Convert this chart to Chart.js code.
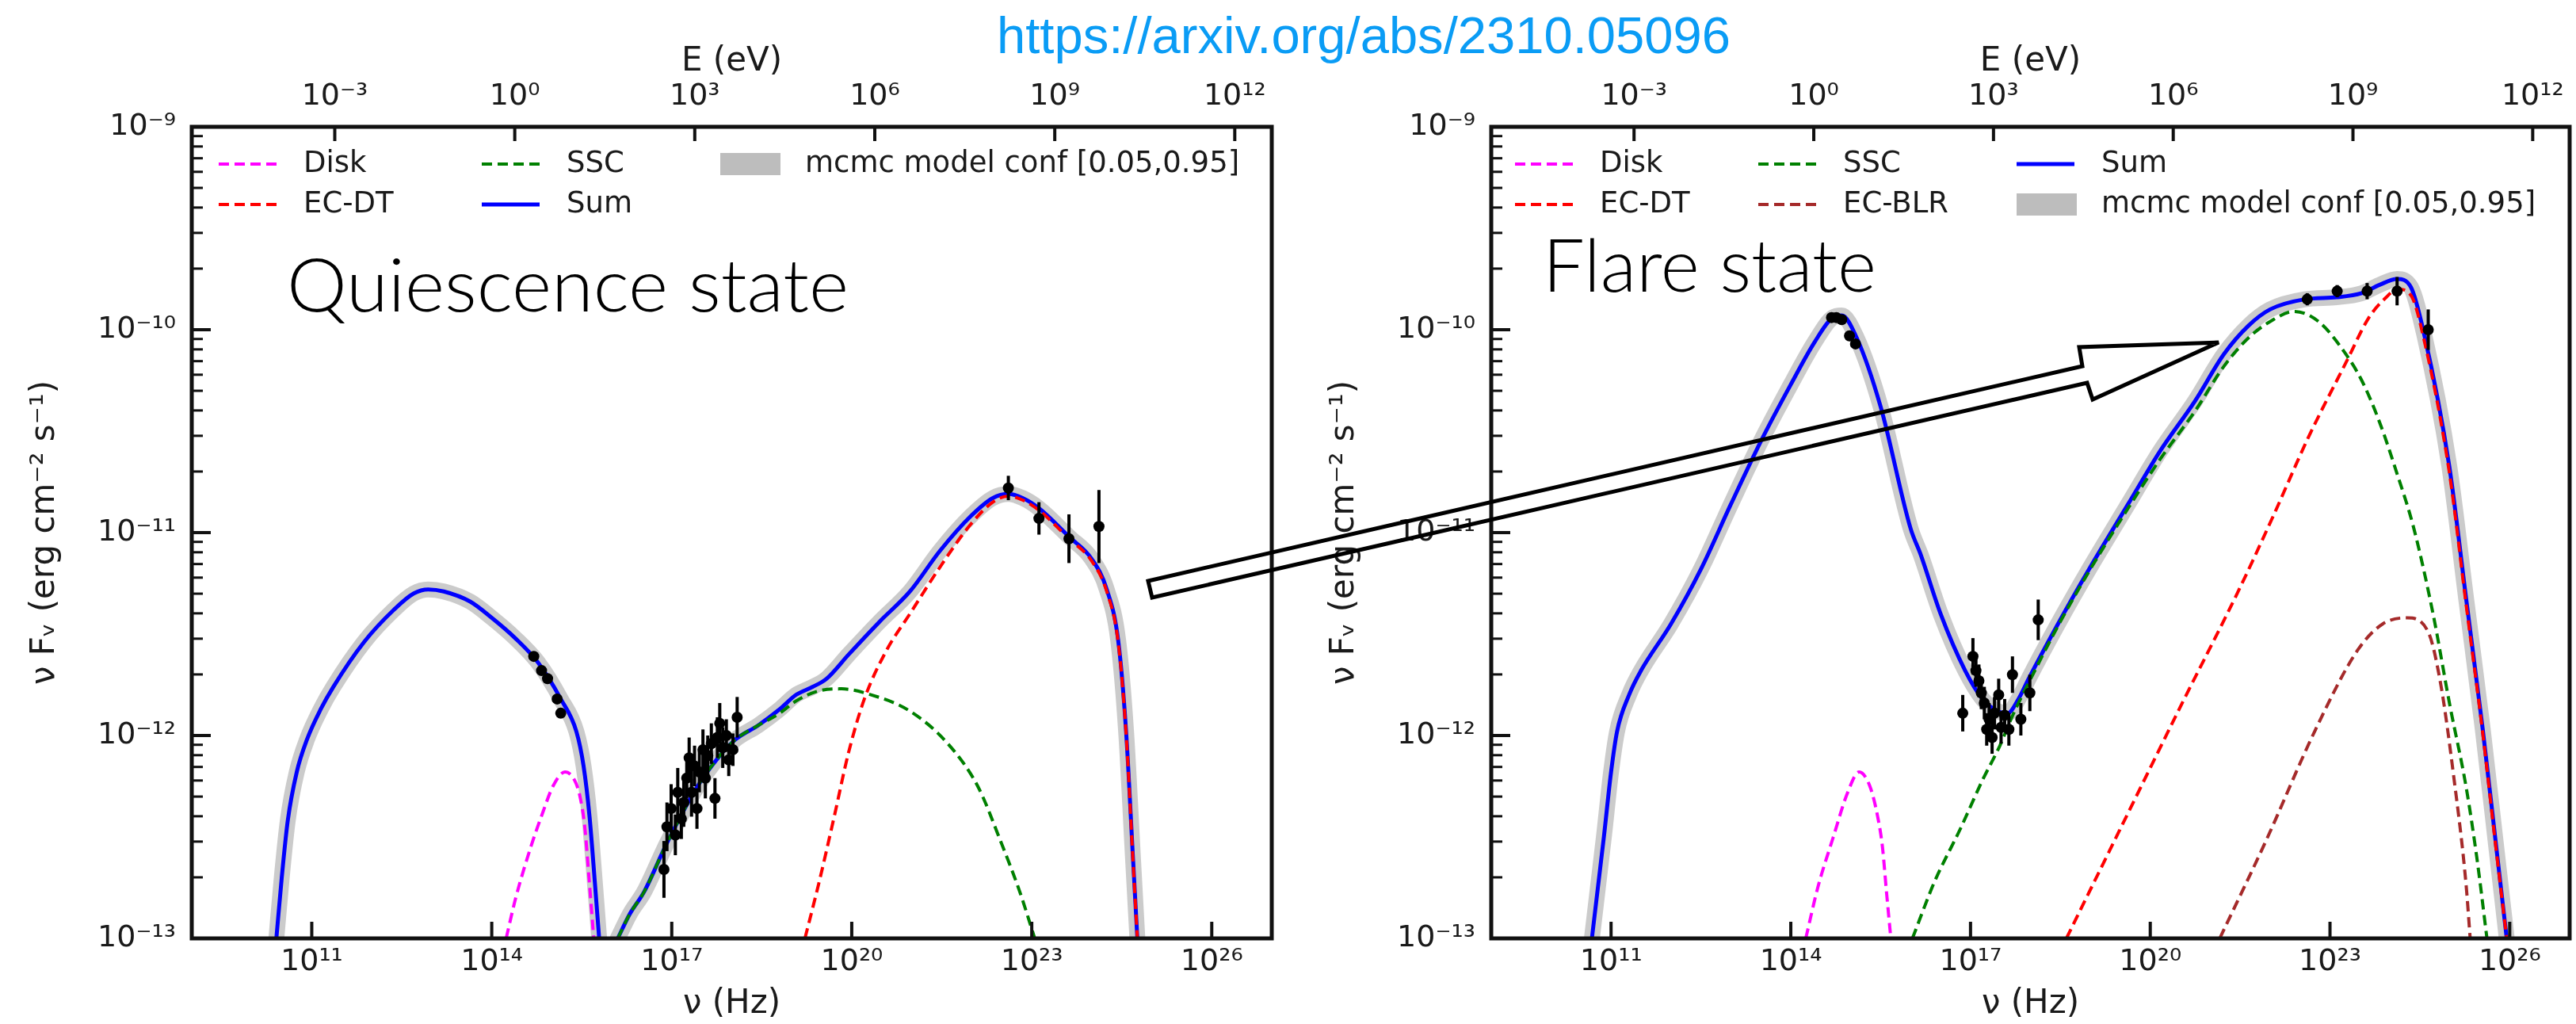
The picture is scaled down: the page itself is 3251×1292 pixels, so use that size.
<!DOCTYPE html>
<html>
<head>
<meta charset="utf-8">
<title>SED: quiescence vs flare</title>
<script src="https://cdn.jsdelivr.net/npm/chart.js@4.4.1/dist/chart.umd.min.js"></script>
<style>
  html, body { margin: 0; padding: 0; background: #fff; }
  #wrap { position: relative; width: 3251px; height: 1292px; overflow: hidden; background: #fff; }
  canvas, svg { position: absolute; top: 0; }
  #cq { left: 0; }
  #cf { left: 1640px; }
  #overlay { left: 0; pointer-events: none; }
</style>
</head>
<body>
<div id="wrap">
  <canvas id="cq" width="1640" height="1292"></canvas>
  <canvas id="cf" width="1611" height="1292"></canvas>
  <svg id="overlay" width="3251" height="1292" viewBox="0 0 3251 1292">
    <text x="1258" y="67" font-family="'Liberation Sans', Arial, sans-serif" font-size="64" fill="#0a9cf5"
          textLength="926" lengthAdjust="spacingAndGlyphs">https://arxiv.org/abs/2310.05096</text>
    <text x="362" y="393" font-family="Lato, 'Liberation Sans', sans-serif" font-weight="300" font-size="92" fill="#000"
          textLength="709" lengthAdjust="spacingAndGlyphs">Quiescence state</text>
    <text x="1947" y="368" font-family="Lato, 'Liberation Sans', sans-serif" font-weight="300" font-size="92" fill="#000"
          textLength="421" lengthAdjust="spacingAndGlyphs">Flare state</text>
    <polygon points="1449,733 2628,462 2624,438 2800,432 2641,504 2634,483 1454,754"
             fill="none" stroke="#000" stroke-width="5" stroke-linejoin="miter"/>
  </svg>
</div>
<script>
// all values are log10: nu in Hz, flux = nu F_nu in erg cm^-2 s^-1
const NU_TICKS = [11, 14, 17, 20, 23, 26];
const E_TICKS = [-3, 0, 3, 6, 9, 12];
const FLUX_DECADES = [-13, -12, -11, -10, -9];

// --- quiescence state ---
const qSumNu = [10.41,10.50,10.60,10.75,10.92,11.15,11.36,11.87,12.37,12.70,12.94,13.20,13.64,14.00,14.39,14.77,15.15,15.41,15.53,15.63,15.72,15.79, 15.95,
                16.10,16.30,16.54,16.92,17.43,17.80,18.06,18.44,18.80,19.07,19.35,19.58,19.95,20.46,20.97,21.47,21.98,22.35,22.61,22.85,23.12,23.62,24.00,24.25,24.44,24.57,24.69,24.76];
const qSumF  = [-13.0,-12.70,-12.42,-12.18,-12.02,-11.87,-11.76,-11.54,-11.38,-11.30,-11.28,-11.29,-11.34,-11.42,-11.52,-11.64,-11.82,-11.98,-12.15,-12.40,-12.73,-13.0, null,
                -13.0,-12.88,-12.77,-12.53,-12.25,-12.10,-12.02,-11.95,-11.87,-11.80,-11.76,-11.72,-11.60,-11.44,-11.29,-11.09,-10.92,-10.83,-10.81,-10.83,-10.88,-11.02,-11.13,-11.28,-11.53,-11.97,-12.62,-13.0];
const qDiskNu = [14.24,14.40,14.65,14.85,15.02,15.22,15.38,15.47,15.55,15.62,15.70];
const qDiskF  = [-13.0,-12.80,-12.55,-12.38,-12.25,-12.18,-12.22,-12.30,-12.45,-12.70,-13.0];
const qSscNu = [16.10,16.30,16.54,16.92,17.43,17.80,18.06,18.44,18.80,19.07,19.45,19.83,20.33,20.97,21.60,22.10,22.48,22.80,23.05];
const qSscF  = [-13.0,-12.88,-12.77,-12.53,-12.25,-12.10,-12.02,-11.95,-11.89,-11.83,-11.78,-11.77,-11.80,-11.88,-12.04,-12.25,-12.52,-12.77,-13.0];
const qEcdtNu = [19.22,19.45,19.70,19.95,20.21,20.58,20.97,21.47,21.98,22.35,22.61,22.85,23.12,23.62,24.00,24.25,24.44,24.57,24.69,24.76];
const qEcdtF  = [-13.0,-12.73,-12.41,-12.08,-11.82,-11.58,-11.40,-11.17,-10.96,-10.85,-10.82,-10.84,-10.89,-11.03,-11.14,-11.29,-11.54,-11.98,-12.63,-13.0];
const qObsNu = [14.70,14.83,14.93,15.09,15.15,
                16.87,16.92,16.99,17.06,17.10,17.16,17.20,17.25,17.29,17.33,17.38,17.42,17.46,17.52,17.56,17.60,17.66,17.72,17.76,17.80,17.85,17.91,17.95,18.02,18.09,
                22.61,23.12,23.62,24.12];
const qObsF  = [-11.61,-11.68,-11.72,-11.82,-11.89,
                -12.66,-12.45,-12.36,-12.49,-12.28,-12.41,-12.33,-12.21,-12.11,-12.28,-12.15,-12.36,-12.18,-12.07,-12.21,-12.10,-12.04,-12.31,-12.01,-11.94,-12.06,-12.00,-12.12,-12.07,-11.91,
                -10.78,-10.93,-11.03,-10.97];
const qObsErr = [0,0,0,0,0,
                 0.14,0.12,0.12,0.10,0.12,0.10,0.12,0.10,0.10,0.12,0.10,0.10,0.10,0.10,0.10,0.10,0.10,0.10,0.10,0.10,0.10,0.08,0.08,0.08,0.10,
                 0.06,0.08,0.12,0.18];

// --- flare state ---
const fSumNu = [10.68,10.78,10.88,11.00,11.10,11.30,11.50,12.00,12.50,13.00,13.50,14.00,14.40,14.70,14.85,15.10,15.50,16.00,16.17,16.50,16.91,17.20,17.45,17.62,17.80,17.97,18.46,18.98,19.63,
                20.16,20.75,21.23,21.64,22.00,22.58,23.11,23.53,23.82,24.12,24.35,24.57,24.99,25.27,25.55,25.76,25.95];
const fSumF  = [-13.0,-12.75,-12.50,-12.18,-11.98,-11.80,-11.68,-11.45,-11.18,-10.86,-10.55,-10.27,-10.06,-9.94,-9.93,-10.04,-10.38,-10.98,-11.11,-11.40,-11.68,-11.82,-11.88,-11.89,-11.82,-11.72,-11.45,-11.18,-10.86,
                -10.60,-10.35,-10.12,-9.98,-9.90,-9.85,-9.84,-9.82,-9.78,-9.75,-9.79,-10.02,-10.67,-11.32,-11.97,-12.51,-13.0];
const fDiskNu = [14.25,14.45,14.71,14.95,15.14,15.32,15.45,15.53,15.60,15.67];
const fDiskF  = [-13.0,-12.75,-12.50,-12.28,-12.18,-12.25,-12.40,-12.55,-12.78,-13.0];
const fSscNu = [16.03,16.40,16.83,17.20,17.49,17.66,17.80,17.97,18.46,18.98,19.63,20.16,20.75,21.23,21.64,22.00,22.40,22.81,23.24,23.53,23.82,24.12,24.40,24.72,25.00,25.27,25.45,25.62];
const fSscF  = [-13.0,-12.72,-12.46,-12.22,-12.05,-11.93,-11.84,-11.74,-11.46,-11.19,-10.88,-10.64,-10.40,-10.18,-10.04,-9.96,-9.91,-9.96,-10.11,-10.25,-10.45,-10.71,-10.98,-11.40,-11.85,-12.25,-12.60,-13.0];
const fEcdtNu = [18.60,19.50,20.50,21.50,22.05,22.64,23.27,23.65,23.94,24.12,24.35,24.57,24.99,25.27,25.55,25.76,25.95];
const fEcdtF  = [-13.0,-12.46,-11.86,-11.27,-10.92,-10.53,-10.16,-9.94,-9.84,-9.80,-9.83,-10.05,-10.70,-11.35,-11.99,-12.53,-13.0];
const fBlrNu = [21.16,21.93,22.76,23.46,23.88,24.29,24.64,24.85,25.06,25.27,25.34];
const fBlrF  = [-13.0,-12.52,-11.97,-11.58,-11.45,-11.42,-11.49,-11.75,-12.19,-12.73,-13.0];
const fObsNu = [14.68,14.76,14.85,14.98,15.08,
                16.87,17.04,17.09,17.14,17.18,17.23,17.27,17.31,17.36,17.40,17.47,17.51,17.57,17.64,17.70,17.84,17.99,18.13,
                22.62,23.12,23.62,24.12,24.64];
const fObsF  = [-9.94,-9.94,-9.95,-10.03,-10.07,
                -11.89,-11.61,-11.68,-11.73,-11.79,-11.84,-11.97,-11.92,-12.01,-11.89,-11.80,-11.96,-11.90,-11.97,-11.70,-11.92,-11.79,-11.43,
                -9.85,-9.81,-9.81,-9.81,-10.00];
const fObsErr = [0,0,0,0,0,
                 0.09,0.09,0.08,0.08,0.08,0.08,0.08,0.08,0.08,0.08,0.08,0.08,0.08,0.08,0.09,0.08,0.09,0.10,
                 0.03,0.03,0.04,0.07,0.10];

// ---------------------------------------------------------------
const H_EV = 4.135667e-15;   // eV per Hz
const SUP = {'-':'⁻','0':'⁰','1':'¹','2':'²','3':'³','4':'⁴','5':'⁵','6':'⁶','7':'⁷','8':'⁸','9':'⁹'};
const pow10Label = e => '10' + String(e).split('').map(c => SUP[c]).join('');
const isDecade = v => Math.abs(Math.log10(v) - Math.round(Math.log10(v))) < 1e-6;
const pts = (nu, f) => nu.map((n, i) => ({ x: 10 ** n, y: f[i] === null ? null : 10 ** f[i] }));

Chart.defaults.font.family = '"DejaVu Sans", sans-serif';
Chart.defaults.color = '#1a1a1a';

function curve(nu, f, color, width, dash){
  return { data: pts(nu, f), borderColor: color, borderWidth: width, borderDash: dash || [],
           pointRadius: 0, pointHoverRadius: 0, fill: false, spanGaps: false,
           cubicInterpolationMode: 'monotone', borderJoinStyle: 'round', xAxisID: 'x', yAxisID: 'y' };
}
function band(nu, f){
  // mcmc confidence band, drawn as a soft halo around the sum curve
  const d = curve(nu, f, 'rgba(140,140,140,0.45)', 20);
  d.borderCapStyle = 'round';
  return d;
}
function obs(nu, f, err){
  return { data: pts(nu, f), errDex: err, showLine: false, pointRadius: 7, pointHoverRadius: 7,
           pointBackgroundColor: '#000', pointBorderColor: '#000', pointBorderWidth: 0,
           xAxisID: 'x', yAxisID: 'y' };
}

// inward ticks + frame, drawn over the data like matplotlib spines
const frameTicks = {
  id: 'frameTicks',
  afterDraw(chart){
    const { ctx, chartArea: a, scales } = chart;
    ctx.save();
    ctx.strokeStyle = '#111';
    scales.y.ticks.forEach(t => {
      const py = scales.y.getPixelForValue(t.value);
      const major = isDecade(t.value);
      ctx.lineWidth = major ? 4 : 3;
      ctx.beginPath(); ctx.moveTo(a.left, py); ctx.lineTo(a.left + (major ? 24 : 14), py); ctx.stroke();
    });
    ctx.lineWidth = 4;
    scales.x.ticks.forEach(t => {
      const px = scales.x.getPixelForValue(t.value);
      ctx.beginPath(); ctx.moveTo(px, a.bottom); ctx.lineTo(px, a.bottom - 21); ctx.stroke();
    });
    scales.xTop.ticks.forEach(t => {
      const px = scales.xTop.getPixelForValue(t.value);
      ctx.beginPath(); ctx.moveTo(px, a.top); ctx.lineTo(px, a.top + 18); ctx.stroke();
    });
    ctx.lineWidth = 5;
    ctx.strokeRect(a.left, a.top, a.right - a.left, a.bottom - a.top);
    ctx.restore();
  }
};

// vertical error bars in dex
const errorBars = {
  id: 'errorBars',
  afterDatasetsDraw(chart){
    const { ctx, chartArea: a } = chart;
    const y = chart.scales.y;
    ctx.save();
    ctx.beginPath(); ctx.rect(a.left, a.top, a.right - a.left, a.bottom - a.top); ctx.clip();
    ctx.strokeStyle = '#000'; ctx.lineWidth = 4;
    chart.data.datasets.forEach((ds, i) => {
      if (!ds.errDex) return;
      chart.getDatasetMeta(i).data.forEach((p, j) => {
        const e = ds.errDex[j];
        if (!e) return;
        const v = ds.data[j].y;
        ctx.beginPath();
        ctx.moveTo(p.x, y.getPixelForValue(v * 10 ** e));
        ctx.lineTo(p.x, y.getPixelForValue(v / 10 ** e));
        ctx.stroke();
      });
    });
    ctx.restore();
  }
};

const LEGEND_ROWS = [47, 98];
function mplLegend(cols, items){
  return {
    id: 'mplLegend',
    afterDraw(chart){
      const { ctx, chartArea: a } = chart;
      ctx.save();
      ctx.font = '37px "DejaVu Sans"';
      ctx.textBaseline = 'middle';
      items.forEach(it => {
        const x0 = a.left + cols[it.col];
        const y0 = a.top + LEGEND_ROWS[it.row];
        if (it.patch){
          ctx.fillStyle = '#bdbdbd';
          ctx.fillRect(x0, y0 - 14, 76, 28);
        } else {
          ctx.strokeStyle = it.color; ctx.lineWidth = it.dash.length ? 4 : 5;
          ctx.setLineDash(it.dash);
          ctx.beginPath(); ctx.moveTo(x0, y0); ctx.lineTo(x0 + 73, y0); ctx.stroke();
          ctx.setLineDash([]);
        }
        ctx.fillStyle = '#1a1a1a';
        ctx.fillText(it.label, x0 + 107, y0);
      });
      ctx.restore();
    }
  };
}

const DASH = [13, 7];
const tickFont = { family: '"DejaVu Sans"', size: 38 };
const titleFont = { family: '"DejaVu Sans"', size: 42 };

function makeChart(id, padRight, datasets, legendCols, legendItems){
  return new Chart(document.getElementById(id), {
    type: 'line',
    data: { datasets },
    options: {
      responsive: false, animation: false, devicePixelRatio: 1, events: [],
      layout: { padding: { left: 0, top: 0, right: padRight, bottom: 0 } },
      plugins: { legend: { display: false }, tooltip: { enabled: false } },
      scales: {
        x: {
          type: 'logarithmic', position: 'bottom', min: 1e9, max: 1e27,
          afterBuildTicks: s => { s.ticks = NU_TICKS.map(e => ({ value: 10 ** e })); },
          afterFit: s => { s.height = 108; },
          ticks: { callback: v => pow10Label(Math.round(Math.log10(v))), font: tickFont, padding: 7, autoSkip: false, maxRotation: 0, minRotation: 0 },
          grid: { display: false, drawTicks: false }, border: { display: false },
          title: { display: true, text: 'ν (Hz)', font: titleFont, padding: { top: 0, bottom: 0 } }
        },
        xTop: {
          type: 'logarithmic', position: 'top', min: 1e9 * H_EV, max: 1e27 * H_EV,
          afterBuildTicks: s => { s.ticks = E_TICKS.map(e => ({ value: 10 ** e })); },
          afterFit: s => { s.height = 160; },
          ticks: { callback: v => pow10Label(Math.round(Math.log10(v))), font: tickFont, padding: 15, autoSkip: false, maxRotation: 0, minRotation: 0 },
          grid: { display: false, drawTicks: false }, border: { display: false },
          title: { display: true, text: 'E (eV)', font: titleFont, padding: { top: 53, bottom: 0 } }
        },
        y: {
          type: 'logarithmic', position: 'left', min: 1e-13, max: 1e-9,
          afterBuildTicks: s => {
            const t = [];
            FLUX_DECADES.forEach(e => {
              t.push({ value: 10 ** e });
              if (e < -9) for (let m = 2; m <= 9; m++) t.push({ value: m * 10 ** e });
            });
            s.ticks = t;
          },
          afterFit: s => { s.width = 242; },
          ticks: { callback: v => isDecade(v) ? pow10Label(Math.round(Math.log10(v))) : '', font: tickFont, padding: 20, autoSkip: false },
          grid: { display: false, drawTicks: false }, border: { display: false },
          title: { display: true, text: 'ν Fᵥ (erg cm⁻² s⁻¹)', font: titleFont, padding: { top: 32, bottom: 0 } }
        }
      }
    },
    plugins: [errorBars, frameTicks, mplLegend(legendCols, legendItems)]
  });
}

// datasets listed top-most first
makeChart('cq', 35, [
  obs(qObsNu, qObsF, qObsErr),
  curve(qDiskNu, qDiskF, '#ff00ff', 4, DASH),
  curve(qSscNu, qSscF, '#008000', 4, DASH),
  curve(qEcdtNu, qEcdtF, '#ff0000', 4, DASH),
  curve(qSumNu, qSumF, '#0000ff', 5),
  band(qSumNu, qSumF)
], [34, 366, 667], [
  { label: 'Disk', color: '#ff00ff', dash: DASH, col: 0, row: 0 },
  { label: 'EC-DT', color: '#ff0000', dash: DASH, col: 0, row: 1 },
  { label: 'SSC', color: '#008000', dash: DASH, col: 1, row: 0 },
  { label: 'Sum', color: '#0000ff', dash: [], col: 1, row: 1 },
  { label: 'mcmc model conf [0.05,0.95]', patch: true, col: 2, row: 0 }
]);

makeChart('cf', 4, [
  obs(fObsNu, fObsF, fObsErr),
  curve(fDiskNu, fDiskF, '#ff00ff', 4, DASH),
  curve(fSscNu, fSscF, '#008000', 4, DASH),
  curve(fBlrNu, fBlrF, '#a52a2a', 4, DASH),
  curve(fEcdtNu, fEcdtF, '#ff0000', 4, DASH),
  curve(fSumNu, fSumF, '#0000ff', 5),
  band(fSumNu, fSumF)
], [30, 337, 663], [
  { label: 'Disk', color: '#ff00ff', dash: DASH, col: 0, row: 0 },
  { label: 'EC-DT', color: '#ff0000', dash: DASH, col: 0, row: 1 },
  { label: 'SSC', color: '#008000', dash: DASH, col: 1, row: 0 },
  { label: 'EC-BLR', color: '#a52a2a', dash: DASH, col: 1, row: 1 },
  { label: 'Sum', color: '#0000ff', dash: [], col: 2, row: 0 },
  { label: 'mcmc model conf [0.05,0.95]', patch: true, col: 2, row: 1 }
]);
</script>
</body>
</html>
